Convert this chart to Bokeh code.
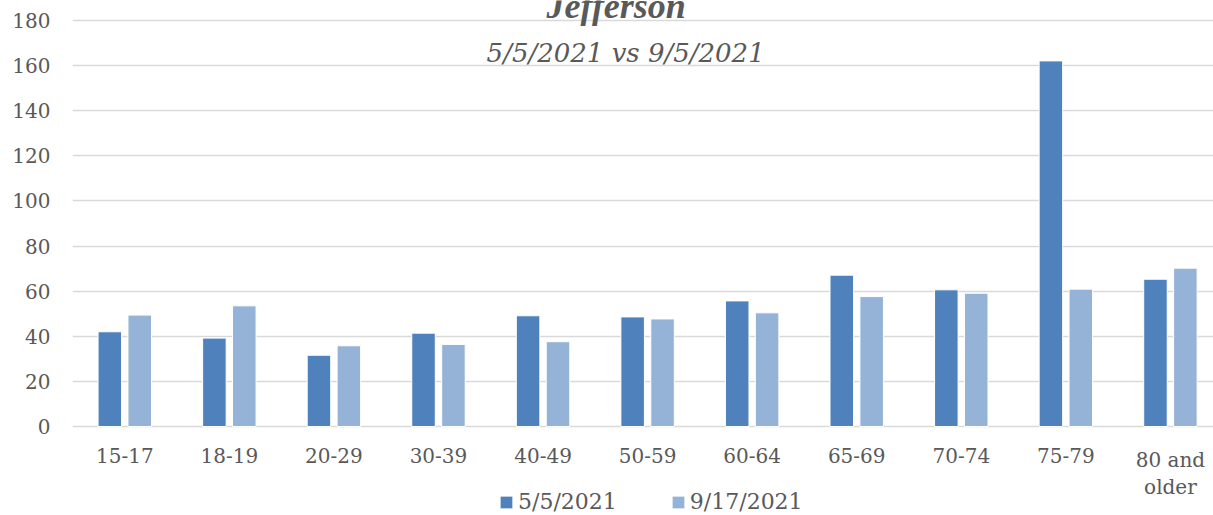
from bokeh.plotting import figure
from bokeh.models import (Range1d, FixedTicker, Legend, LegendItem, Label,
                          ColumnDataSource)
from bokeh.core.properties import value
from bokeh.embed import file_html
from bokeh.resources import INLINE

# ---- data ----
categories = ["15-17", "18-19", "20-29", "30-39", "40-49", "50-59",
              "60-64", "65-69", "70-74", "75-79", "80 and\nolder"]
series_names = ["5/5/2021", "9/17/2021"]
values_may = [42.0, 39.2, 31.6, 41.4, 49.1, 48.6, 55.7, 67.1, 60.6, 162.1, 65.3]
values_sep = [49.4, 53.5, 35.8, 36.4, 37.6, 47.7, 50.4, 57.6, 59.1, 60.9, 70.2]
y_ticks = [0, 20, 40, 60, 80, 100, 120, 140, 160, 180]
title_text = "Jefferson"
subtitle_text = "5/5/2021 vs 9/5/2021"

# ---- styling ----
COL_DARK = "#4F81BD"
COL_LIGHT = "#95B3D7"
TXT = "#595959"
GRID = "#D9D9D9"
FONT = "DejaVu Serif"

idx = list(range(len(categories)))
line1 = [c.split("\n")[0] for c in categories]
line2 = [c.split("\n")[1] if "\n" in c else "" for c in categories]
src = ColumnDataSource(dict(
    x=idx,
    x1=[i - 0.143 for i in idx],
    x2=[i + 0.143 for i in idx],
    may=values_may,
    sep=values_sep,
    base=[0] * len(idx),
    l1=line1,
    l2=line2,
))

p = figure(width=1213, height=515, output_backend="svg", toolbar_location=None,
           x_range=Range1d(-0.5, 10.412), y_range=Range1d(-39.45, 188.87),
           x_axis_location=None,
           min_border_left=72, min_border_right=0, min_border_top=0,
           min_border_bottom=0)
p.outline_line_color = None
p.background_fill_color = "white"
p.border_fill_color = "white"

r1 = p.vbar(x="x1", top="may", width=0.225, source=src, fill_color=COL_DARK,
            line_color="white", line_width=1)
r2 = p.vbar(x="x2", top="sep", width=0.225, source=src, fill_color=COL_LIGHT,
            line_color="white", line_width=1)

# category labels under the zero line (two lines for wrapped labels)
for col, off in (("l1", 21), ("l2", 48)):
    p.text(x="x", y="base", text=col, source=src, text_align="center",
           text_baseline="top", y_offset=off, text_font=value(FONT),
           text_font_size="20px", text_color=TXT)

# y axis
p.yaxis.ticker = FixedTicker(ticks=y_ticks)
ax = p.yaxis[0]
ax.axis_line_color = None
ax.major_tick_line_color = None
ax.minor_tick_line_color = None
ax.major_tick_out = 0
ax.major_tick_in = 0
ax.major_label_text_font = FONT
ax.major_label_text_font_size = "20px"
ax.major_label_text_color = TXT
ax.major_label_standoff = 22

p.xgrid.grid_line_color = None
p.ygrid.grid_line_color = GRID
p.ygrid.grid_line_width = 1.5
p.ygrid.ticker = FixedTicker(ticks=y_ticks)

# titles
p.add_layout(Label(x=4.70, y=186.6, text=title_text, text_align="center",
                   text_baseline="alphabetic", text_font="Liberation Serif",
                   text_font_style="bold italic", text_font_size="36px",
                   text_color=TXT))
p.add_layout(Label(x=4.79, y=165.8, text=subtitle_text, text_align="center",
                   text_baseline="alphabetic", text_font=FONT,
                   text_font_style="italic", text_font_size="26px",
                   text_color=TXT))

legend = Legend(items=[LegendItem(label=series_names[0], renderers=[r1]),
                       LegendItem(label=series_names[1], renderers=[r2])],
                orientation="horizontal", location=(426, 1),
                padding=0, margin=0, spacing=53, label_standoff=4,
                glyph_width=16, glyph_height=16,
                label_text_font=FONT, label_text_font_size="22px",
                label_text_color=TXT, border_line_color=None,
                background_fill_alpha=0)
p.add_layout(legend)

open("out.html", "w").write(file_html(p, INLINE))
